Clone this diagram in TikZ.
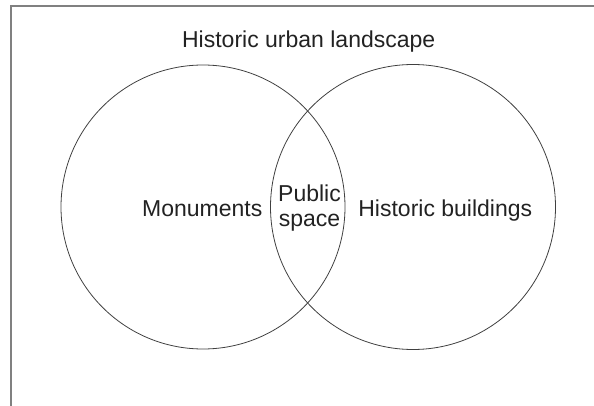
\documentclass[tikz,border=0pt]{standalone}
\usepackage{fontspec}
\setmainfont{Liberation Sans}
\definecolor{framegray}{HTML}{808080}
\definecolor{linegray}{HTML}{404040}
\definecolor{textgray}{HTML}{222222}
\begin{document}
\begin{tikzpicture}[x=1pt,y=-1pt,
  label text/.style={text=textgray, font=\fontsize{23}{25}\selectfont, inner sep=0pt, anchor=base},
  venn/.style={draw=linegray, line width=0.8pt},
  frameline/.style={draw=framegray, line width=2pt}]
\useasboundingbox (0,0) rectangle (594,406);
\draw[frameline] (11,406) -- (11,6.5) -- (594,6.5);
\draw[venn] (203,207) circle[radius=142];
\draw[venn] (413,207) circle[radius=142.5];
\node[label text] (title) at (308.7,48) {Historic urban landscape};
\node[label text] (mon) at (202.2,216) {Monuments};
\node[label text] (hist) at (445.3,216) {Historic buildings};
\node[label text] (pub) at (309.5,201.5) {Public};
\node[label text] (spc) at (309.5,226.5) {space};
\end{tikzpicture}
\end{document}
